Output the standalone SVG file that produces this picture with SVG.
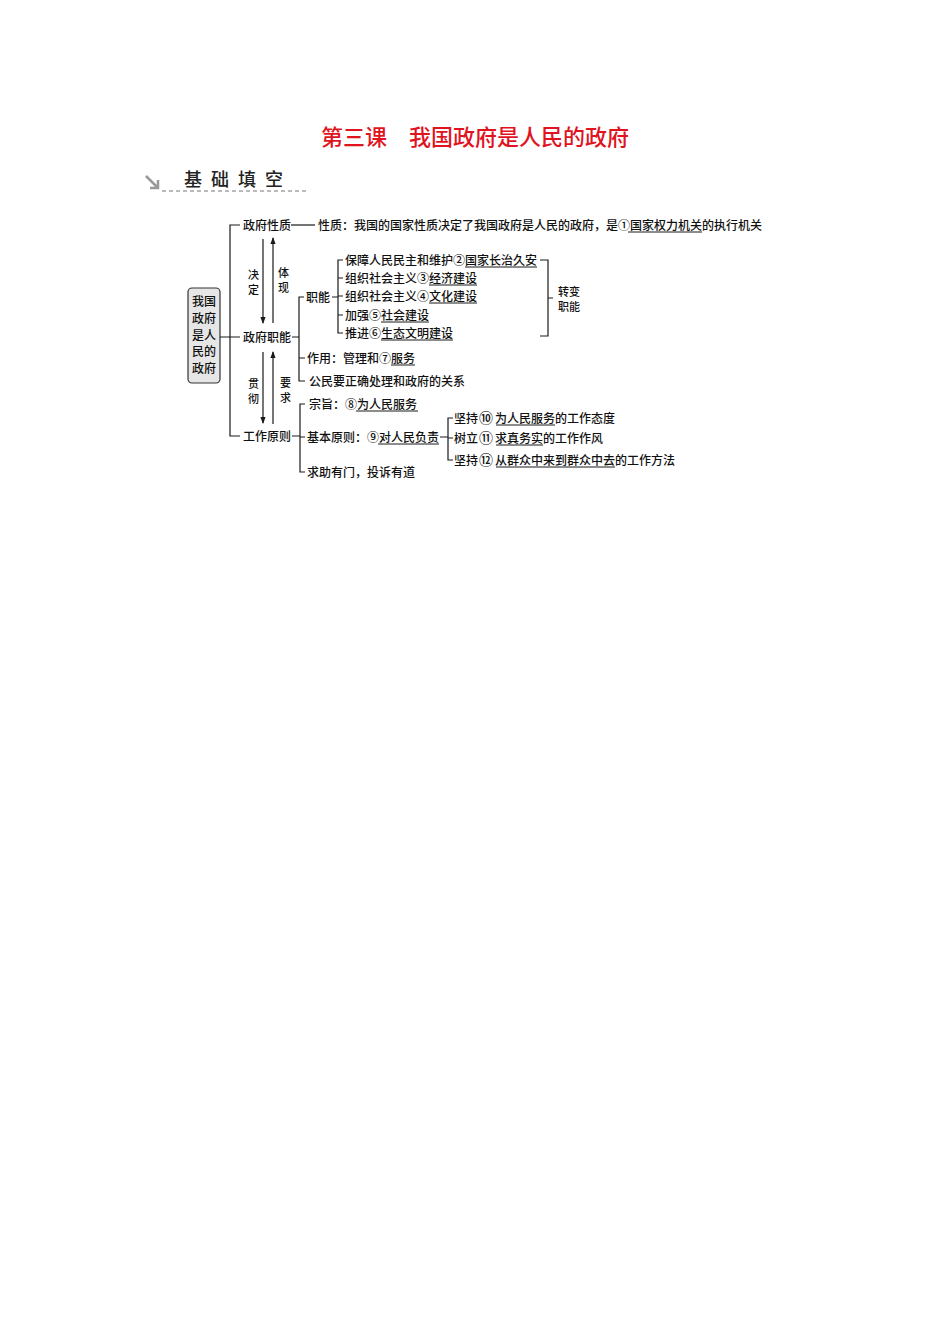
<svg xmlns="http://www.w3.org/2000/svg" width="950" height="1344" viewBox="0 0 950 1344">
<defs>
<style>
.t{font-family:"Noto Sans CJK SC","Liberation Serif",sans-serif;font-size:12px;fill:#111;font-weight:500}
.s{font-family:"Noto Sans CJK SC","Liberation Serif",sans-serif;font-size:11px;fill:#111;font-weight:500}
.ln{stroke:#1a1a1a;stroke-width:1.2;fill:none}
.ul{stroke:#1a1a1a;stroke-width:1}
</style>
<marker id="ah" viewBox="0 0 8 8" refX="7" refY="4" markerWidth="6" markerHeight="6" orient="auto">
<path d="M0,1 L8,4 L0,7 Z" fill="#1a1a1a"/>
</marker>
</defs>
<rect width="950" height="1344" fill="#fff"/>
<text x="475" y="145" text-anchor="middle" font-family="Noto Sans CJK SC, sans-serif" font-size="22" font-weight="500" fill="#e0141e">第三课　我国政府是人民的政府</text>
<g id="header">
<path d="M146,176 L157,187 M150,188 L158,188 L158,180" stroke="#999" stroke-width="2.5" fill="none"/>
<text x="184" y="186" font-family="Noto Sans CJK SC, sans-serif" font-size="18" font-weight="500" letter-spacing="9" fill="#222">基础填空</text>
<line x1="162" y1="191" x2="306" y2="191" stroke="#777" stroke-width="1" stroke-dasharray="4,3"/>
</g>
<g id="root">
<rect x="188" y="288" width="32" height="95" rx="4" fill="#e6e6e6" stroke="#333" stroke-width="1.2"/>
<text class="t" x="204" text-anchor="middle"><tspan x="204" y="306">我国</tspan><tspan x="204" y="323">政府</tspan><tspan x="204" y="340">是人</tspan><tspan x="204" y="356">民的</tspan><tspan x="204" y="373">政府</tspan></text>
</g>
<g id="connectors">
<path class="ln" d="M240,225 H230 V436 H240 M220,337 H240"/>
<line class="ln" x1="291" y1="225" x2="315" y2="225"/>
<line class="ln" x1="263" y1="239" x2="263" y2="323" marker-end="url(#ah)"/>
<line class="ln" x1="273" y1="323" x2="273" y2="238" marker-end="url(#ah)"/>
<line class="ln" x1="263" y1="352" x2="263" y2="423" marker-end="url(#ah)"/>
<line class="ln" x1="273" y1="424" x2="273" y2="352" marker-end="url(#ah)"/>
<path class="ln" d="M292,337 H299 M304,297 H299 V381 H305 M299,358 H305"/>
<path class="ln" d="M332,297 H338 M343,260 H338 V333 H343 M338,278 H343 M338,296 H343 M338,315 H343"/>
<path class="ln" d="M540,260 H548 V336 H540 M548,298 H553"/>
<path class="ln" d="M292,436 H300 M305,404 H300 V472 H305 M300,437 H305"/>
<path class="ln" d="M440,437 H448 M453,418 H448 V460 H453 M448,438 H453"/>
</g>
<g id="n1"><text class="t" x="243" y="229.5">政府性质</text></g>
<g id="n2"><text class="t" x="318" y="229.5">性质：我国的国家性质决定了我国政府是人民的政府，是①国家权力机关的执行机关</text><line class="ul" x1="628" y1="232" x2="702" y2="232"/></g>
<g id="l1"><text class="s" x="248" y="279">决</text><text class="s" x="248" y="294">定</text><text class="s" x="278" y="277">体</text><text class="s" x="278" y="292">现</text></g>
<g id="n3"><text class="t" x="243" y="341.5">政府职能</text></g>
<g id="n4"><text class="t" x="306" y="301.5">职能</text></g>
<g id="f1"><text class="t" x="345" y="264.5">保障人民民主和维护②国家长治久安</text><line class="ul" x1="465" y1="267" x2="537" y2="267"/></g>
<g id="f2"><text class="t" x="345" y="282.5">组织社会主义③经济建设</text><line class="ul" x1="429" y1="285" x2="477" y2="285"/></g>
<g id="f3"><text class="t" x="345" y="300.5">组织社会主义④文化建设</text><line class="ul" x1="429" y1="303" x2="477" y2="303"/></g>
<g id="f4"><text class="t" x="345" y="319.5">加强⑤社会建设</text><line class="ul" x1="381" y1="322" x2="429" y2="322"/></g>
<g id="f5"><text class="t" x="345" y="337.5">推进⑥生态文明建设</text><line class="ul" x1="381" y1="340" x2="453" y2="340"/></g>
<g id="n5"><text class="s" x="558" y="296">转变</text><text class="s" x="558" y="311">职能</text></g>
<g id="n6"><text class="t" x="307" y="362.5">作用：管理和⑦服务</text><line class="ul" x1="391" y1="365" x2="415" y2="365"/></g>
<g id="n7"><text class="t" x="309" y="385.5">公民要正确处理和政府的关系</text></g>
<g id="l2"><text class="s" x="248" y="388">贯</text><text class="s" x="248" y="403">彻</text><text class="s" x="280" y="387">要</text><text class="s" x="280" y="402">求</text></g>
<g id="n8"><text class="t" x="243" y="440.5">工作原则</text></g>
<g id="n9"><text class="t" x="309" y="408.5">宗旨：⑧为人民服务</text><line class="ul" x1="356" y1="411" x2="418" y2="411"/></g>
<g id="n10"><text class="t" x="307" y="441.5">基本原则：⑨对人民负责</text><line class="ul" x1="378" y1="444" x2="439" y2="444"/></g>
<g id="n11"><text class="t" x="307" y="476.5">求助有门，投诉有道</text></g>
<g id="p1"><text class="t" x="454" y="422.5">坚持<tspan font-size="14" dx="1">⑩</tspan><tspan dx="2">为人民服务的工作态度</tspan></text><line class="ul" x1="496" y1="425" x2="555" y2="425"/></g>
<g id="p2"><text class="t" x="454" y="442.5">树立<tspan font-size="14" dx="1">⑪</tspan><tspan dx="2">求真务实的工作作风</tspan></text><line class="ul" x1="496" y1="445" x2="543" y2="445"/></g>
<g id="p3"><text class="t" x="454" y="464.5">坚持<tspan font-size="14" dx="1">⑫</tspan><tspan dx="2">从群众中来到群众中去的工作方法</tspan></text><line class="ul" x1="496" y1="467" x2="615" y2="467"/></g>
</svg>
